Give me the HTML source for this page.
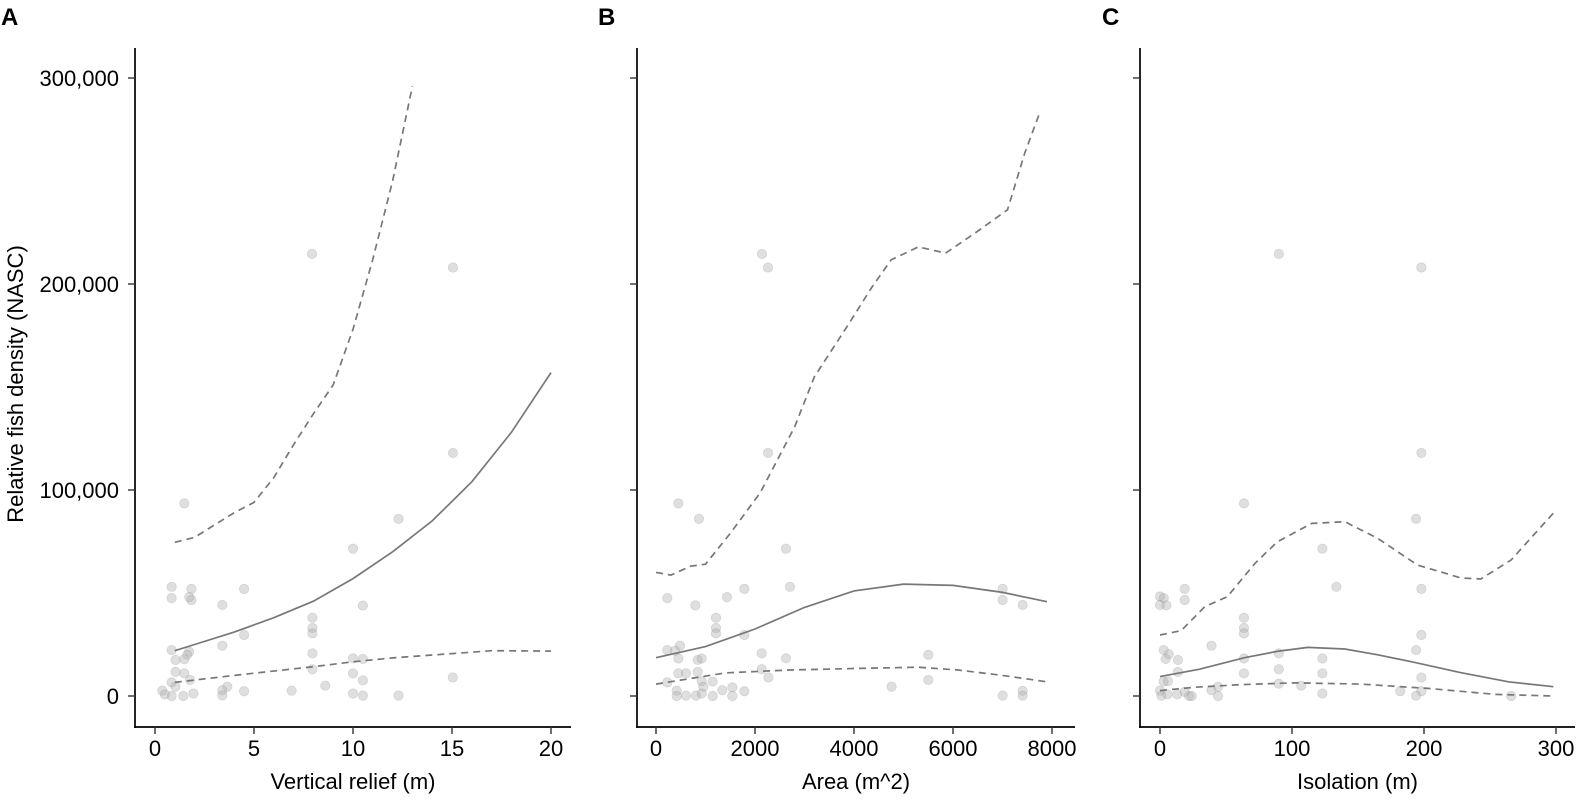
<!DOCTYPE html>
<html><head><meta charset="utf-8"><style>
html,body{margin:0;padding:0;background:#fff;}
svg{display:block;font-family:"Liberation Sans",Arial,sans-serif;}
</style></head><body>
<svg id="chart" width="1577" height="801" viewBox="0 0 1577 801" xmlns="http://www.w3.org/2000/svg">
<text x="0" y="0" transform="translate(23,384) rotate(-90)" text-anchor="middle" font-size="22" fill="#000">Relative fish density (NASC)</text>
</svg>
<script>
// Shared y ticks
const yTicks = [0, 100000, 200000, 300000];
const yTickLabels = ["0", "100,000", "200,000", "300,000"];

// Panel A: Vertical relief
const aTicks = [0, 5, 10, 15, 20];
const aPointsX = [1.48,12.3,10.0,0.84,0.84,1.84,1.73,1.84,4.5,3.4,10.5,7.95,7.95,7.95,4.5,0.84,3.4,1.73,1.63,1.04,1.48,7.95,10,10.5,1.04,1.48,7.95,10.0,15.04,0.84,1.77,10.5,8.6,3.65,1.03,0.37,3.4,4.5,6.9,1.94,0.5,0.84,1.43,3.4,10.0,10.5,12.3,7.93,15.05,15.05];
const aPointsY = [93.5,86,71.5,53,47.5,52,48,46.6,52,44.2,43.9,38,33,30.4,29.6,22.3,24.4,21.5,20,17.5,17.8,20.7,18.3,18,11.7,11,13,11,9,6.6,7.8,7.6,5,4.5,4.5,2.6,2.8,2.3,2.6,1.2,0.8,0,0,0.3,1.2,0.2,0.2,214.6,208,118];
const aFitX = [1,2,4,6,8,10,12,14,16,18,20];
const aFitY = [22,25,31,38,46,57,70,85,104,128,157];
const aUpperX = [1,2,3,4,5,6,7,8,9,10,11,12,13];
const aUpperY = [74.6,77,83,89,94,106,122,137,151,178,212,250,296];
const aLowerX = [1,4,8,10,12,15,17,20];
const aLowerY = [6.6,10,14.2,16.6,18.5,20.6,22,21.8];

// Panel B: Area
const bTicks = [0, 2000, 4000, 6000, 8000];
const bPointsX = [451,868,2626,1785,2707,229,1434,795,1212,1212,1212,1785,7003,7003,7407,229,485,451,842,923,384,2135,2626,5502,451,606,842,2135,2270,229,923,1145,5502,4760,956,1340,1542,1785,418,418,606,808,923,1145,1542,7003,7407,7407,2141,2263,2263];
const bPointsY = [93.5,86,71.5,52,53,47.5,48,44,38,33,30.4,29.6,52,46.6,44.2,22.3,24.4,18.2,17.5,18.2,22,20.7,18.3,20,11,11,11.7,13,9,6.6,7.2,7,7.8,4.5,4.5,2.8,4.2,2.3,2.6,0,0.2,0.2,1.2,0,0,0.2,2.5,0.2,214.6,208,118];
const bFitX = [0,1000,2000,3000,4000,5000,6000,7000,7900];
const bFitY = [18.6,24,32.5,43,51,54.3,53.7,50.3,45.8];
const bUpperX = [0,300,700,1000,1500,2100,2800,3200,3850,4350,4750,5300,5850,6450,7100,7450,7750];
const bUpperY = [60,58.7,63,64,79,98.5,130.6,155,179,198,211.7,218,215,224.8,236,263.6,283];
const bLowerX = [0,1400,2700,4100,5300,6100,7000,7900];
const bLowerY = [5.8,11.2,12.6,13.4,14,12.6,10,6.9];

// Panel C: Isolation
const cTicks = [0, 100, 200, 300];
const cPointsX = [63.6,194,123,133.6,198,18.7,18.7,0,2.8,0,4.8,63.6,63.6,63.6,198,39,2.8,6.6,4.3,13.6,90,63.6,123,194,13.6,63.6,90,123,198,2.8,6,90,107,44,39,0,18.7,182,198,13,1,5.6,22,24,44,123,194,266,90,198,198];
const cPointsY = [93.5,86,71.5,53,52,52,46.6,48.3,47.5,44.2,44,38,33,30.4,29.6,24.4,22.3,20.3,18,17.5,20.7,18.2,18.2,22.3,11.7,11,13,11,9,7,7.2,6,5,4.5,2.8,2.6,2,2.3,2.3,0.8,0.2,0.8,0,0,0,1.2,0.2,0,214.6,208,118];
const cFitX = [0,30,64,90,112,140,165,190,228,264,298];
const cFitY = [9.4,13,18.6,21.8,23.6,22.8,20,16.7,11.3,6.9,4.5];
const cUpperX = [0,16,34,51,72,89,115,140,165,195,228,243,266,298];
const cUpperY = [29.6,31.7,43.4,48.2,64.4,74.9,83.8,84.6,76.5,63.6,57.3,56.8,66,88.8];
const cLowerX = [0,26,60,102,152,203,254,298];
const cLowerY = [2.6,4.2,5.5,6.4,5.8,3.7,0.8,0];

const NS = "http://www.w3.org/2000/svg";
const svg = document.getElementById('chart');
function mk(tag, attrs, parent) {
  const e = document.createElementNS(NS, tag);
  for (const k in attrs) e.setAttribute(k, attrs[k]);
  (parent || svg).appendChild(e);
  return e;
}
const yScale = v => 696 - v * 0.00206;
const yK = v => yScale(v * 1000);

const panels = [
  {key:'a', letter:'A', lx:1, axisX:135, axisEnd:571, x0:155, x1:551, d0:0, d1:20, ticks:aTicks, title:'Vertical relief (m)', labels:true,
   px:aPointsX, py:aPointsY, fx:aFitX, fy:aFitY, ux:aUpperX, uy:aUpperY, lwx:aLowerX, lwy:aLowerY},
  {key:'b', letter:'B', lx:598, axisX:637, axisEnd:1075, x0:656, x1:1052, d0:0, d1:8000, ticks:bTicks, title:'Area (m^2)', labels:false,
   px:bPointsX, py:bPointsY, fx:bFitX, fy:bFitY, ux:bUpperX, uy:bUpperY, lwx:bLowerX, lwy:bLowerY},
  {key:'c', letter:'C', lx:1102, axisX:1140, axisEnd:1575, x0:1160, x1:1556, d0:0, d1:300, ticks:cTicks, title:'Isolation (m)', labels:false,
   px:cPointsX, py:cPointsY, fx:cFitX, fy:cFitY, ux:cUpperX, uy:cUpperY, lwx:cLowerX, lwy:cLowerY}
];

panels.forEach(p => {
  const xs = v => p.x0 + (v - p.d0) / (p.d1 - p.d0) * (p.x1 - p.x0);
  const g = mk('g', {});
  
  

  const letter = mk('text', {x:p.lx, y:25, 'font-size':24, 'font-weight':'bold', fill:'#000'}, g);
  letter.textContent = p.letter;
  
  

  for (let i = 0; i < p.px.length; i++) {
    const c = mk('circle', {cx:xs(p.px[i]), cy:yK(p.py[i]), r:4.7, fill:'#aaaaaa', 'fill-opacity':0.38, stroke:'#999', 'stroke-opacity':0.3, 'stroke-width':0.8}, g);
    
    
  }
  function line(xa, ya, dashed, name) {
    const d = xa.map((v, i) => (i ? 'L' : 'M') + xs(v).toFixed(1) + ',' + yK(ya[i]).toFixed(1)).join(' ');
    const l = mk('path', {d:d, fill:'none', stroke:'#777', 'stroke-width':1.7}, g);
    if (dashed) l.setAttribute('stroke-dasharray', '7,5');
    
    
  }
  line(p.ux, p.uy, true, 'upper-ci-line');
  line(p.lwx, p.lwy, true, 'lower-ci-line');
  line(p.fx, p.fy, false, 'fitted-line');

  const ya = mk('line', {x1:p.axisX, y1:48, x2:p.axisX, y2:728, stroke:'#000', 'stroke-width':1.7}, g);
  
  
  const xa = mk('line', {x1:p.axisX - 0.8, y1:727, x2:p.axisEnd, y2:727, stroke:'#000', 'stroke-width':1.7}, g);
  
  

  yTicks.forEach((t, i) => {
    const tk = mk('line', {x1:p.axisX - 7, y1:yScale(t), x2:p.axisX, y2:yScale(t), stroke:'#333', 'stroke-width':1.4}, g);
    
    
    if (p.labels) {
      const tl = mk('text', {x:p.axisX - 16, y:yScale(t) + 8, 'text-anchor':'end', 'font-size':22, fill:'#000'}, g);
      tl.textContent = yTickLabels[i];
      
      
    }
  });
  p.ticks.forEach(t => {
    const tk = mk('line', {x1:xs(t), y1:727, x2:xs(t), y2:734, stroke:'#333', 'stroke-width':1.4}, g);
    
    
    const tl = mk('text', {x:xs(t), y:756, 'text-anchor':'middle', 'font-size':22, fill:'#000'}, g);
    tl.textContent = String(t);
    
    
  });
  const tt = mk('text', {x:(p.axisX + p.axisEnd) / 2, y:789, 'text-anchor':'middle', 'font-size':22, fill:'#000'}, g);
  tt.textContent = p.title;
  
  
});
</script>
</body></html>
